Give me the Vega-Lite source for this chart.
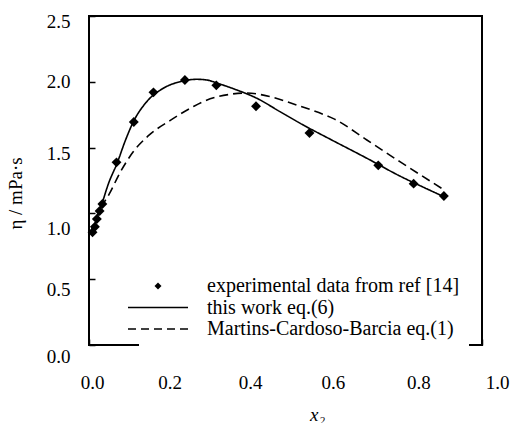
{
  "$schema": "https://vega.github.io/schema/vega-lite/v6.json",
  "width": 393,
  "height": 329,
  "autosize": "none",
  "padding": {"left": 89, "top": 16, "right": 29, "bottom": 78},
  "background": "white",
  "config": {
    "view": {"stroke": "black", "strokeWidth": 2},
    "font": "Liberation Serif",
    "axis": {
      "domain": false,
      "grid": false,
      "tickColor": "black",
      "tickWidth": 1.5,
      "tickSize": -6,
      "labelFlush": false,
      "labelFont": "Liberation Serif",
      "labelFontSize": 19,
      "labelColor": "black",
      "titleFont": "Liberation Serif",
      "titleFontSize": 19,
      "titleColor": "black",
      "titleFontWeight": "normal"
    }
  },
  "layer": [
    {
      "data": {
        "values": [
          {"x": 0.003, "y": 0.845, "series": "this work eq.(6)"},
          {"x": 0.009, "y": 0.865, "series": "this work eq.(6)"},
          {"x": 0.020, "y": 0.96, "series": "this work eq.(6)"},
          {"x": 0.032, "y": 1.065, "series": "this work eq.(6)"},
          {"x": 0.050, "y": 1.23, "series": "this work eq.(6)"},
          {"x": 0.072, "y": 1.385, "series": "this work eq.(6)"},
          {"x": 0.092, "y": 1.55, "series": "this work eq.(6)"},
          {"x": 0.113, "y": 1.697, "series": "this work eq.(6)"},
          {"x": 0.147, "y": 1.849, "series": "this work eq.(6)"},
          {"x": 0.189, "y": 1.951, "series": "this work eq.(6)"},
          {"x": 0.232, "y": 2.001, "series": "this work eq.(6)"},
          {"x": 0.274, "y": 2.019, "series": "this work eq.(6)"},
          {"x": 0.299, "y": 2.014, "series": "this work eq.(6)"},
          {"x": 0.333, "y": 1.983, "series": "this work eq.(6)"},
          {"x": 0.376, "y": 1.938, "series": "this work eq.(6)"},
          {"x": 0.427, "y": 1.875, "series": "this work eq.(6)"},
          {"x": 0.486, "y": 1.773, "series": "this work eq.(6)"},
          {"x": 0.545, "y": 1.672, "series": "this work eq.(6)"},
          {"x": 0.613, "y": 1.565, "series": "this work eq.(6)"},
          {"x": 0.707, "y": 1.419, "series": "this work eq.(6)"},
          {"x": 0.791, "y": 1.284, "series": "this work eq.(6)"},
          {"x": 0.850, "y": 1.20, "series": "this work eq.(6)"},
          {"x": 0.903, "y": 1.127, "series": "this work eq.(6)"},
          {"x": 0.003, "y": 0.85, "series": "Martins-Cardoso-Barcia eq.(1)"},
          {"x": 0.028, "y": 1.03, "series": "Martins-Cardoso-Barcia eq.(1)"},
          {"x": 0.052, "y": 1.15, "series": "Martins-Cardoso-Barcia eq.(1)"},
          {"x": 0.079, "y": 1.31, "series": "Martins-Cardoso-Barcia eq.(1)"},
          {"x": 0.113, "y": 1.47, "series": "Martins-Cardoso-Barcia eq.(1)"},
          {"x": 0.155, "y": 1.60, "series": "Martins-Cardoso-Barcia eq.(1)"},
          {"x": 0.206, "y": 1.705, "series": "Martins-Cardoso-Barcia eq.(1)"},
          {"x": 0.265, "y": 1.811, "series": "Martins-Cardoso-Barcia eq.(1)"},
          {"x": 0.291, "y": 1.85, "series": "Martins-Cardoso-Barcia eq.(1)"},
          {"x": 0.359, "y": 1.905, "series": "Martins-Cardoso-Barcia eq.(1)"},
          {"x": 0.401, "y": 1.915, "series": "Martins-Cardoso-Barcia eq.(1)"},
          {"x": 0.461, "y": 1.887, "series": "Martins-Cardoso-Barcia eq.(1)"},
          {"x": 0.528, "y": 1.824, "series": "Martins-Cardoso-Barcia eq.(1)"},
          {"x": 0.596, "y": 1.753, "series": "Martins-Cardoso-Barcia eq.(1)"},
          {"x": 0.622, "y": 1.72, "series": "Martins-Cardoso-Barcia eq.(1)"},
          {"x": 0.707, "y": 1.558, "series": "Martins-Cardoso-Barcia eq.(1)"},
          {"x": 0.791, "y": 1.393, "series": "Martins-Cardoso-Barcia eq.(1)"},
          {"x": 0.897, "y": 1.191, "series": "Martins-Cardoso-Barcia eq.(1)"}
        ]
      },
      "mark": {"type": "line", "color": "black", "strokeWidth": 1.6, "interpolate": "monotone"},
      "encoding": {
        "x": {
          "field": "x", "type": "quantitative",
          "scale": {"domain": [0, 1], "nice": false},
          "axis": {
            "values": [0, 0.2, 0.4, 0.6, 0.8, 1.0],
            "format": ".1f",
            "labelPadding": 34,
            "labelOffset": {"expr": "datum.value < 0.1 ? 3 : datum.value < 0.3 ? 2 : datum.value < 0.5 ? 4 : datum.value < 0.7 ? 8 : 15"},
            "title": "x₂",
            "titleFontStyle": "italic",
            "titleX": 228,
            "titleY": 75,
            "titleAlign": "center",
            "titleBaseline": "alphabetic"
          }
        },
        "y": {
          "field": "y", "type": "quantitative",
          "scale": {"domain": [0, 2.5], "nice": false},
          "axis": {
            "values": [0, 0.5, 1.0, 1.5, 2.0, 2.5],
            "format": ".1f",
            "labelPadding": 25,
            "labelOffset": {"expr": "datum.value == 2.5 ? 5 : datum.value == 2 ? 0 : datum.value == 1.5 ? 6 : datum.value == 1 ? 15 : datum.value == 0.5 ? 10 : 11"},
            "title": "η / mPa·s",
            "titleX": -74,
            "titleY": 177,
            "titleAngle": -90,
            "titleAlign": "center",
            "titleBaseline": "middle"
          }
        },
        "strokeDash": {
          "field": "series", "type": "nominal",
          "scale": {"domain": ["this work eq.(6)", "Martins-Cardoso-Barcia eq.(1)"], "range": [[1, 0], [9, 5]]},
          "legend": null
        }
      }
    },
    {
      "data": {
        "values": [
          {"x": 0.009, "y": 0.856, "series": "experimental data from ref [14]"},
          {"x": 0.015, "y": 0.899, "series": "experimental data from ref [14]"},
          {"x": 0.020, "y": 0.957, "series": "experimental data from ref [14]"},
          {"x": 0.027, "y": 1.018, "series": "experimental data from ref [14]"},
          {"x": 0.034, "y": 1.071, "series": "experimental data from ref [14]"},
          {"x": 0.070, "y": 1.388, "series": "experimental data from ref [14]"},
          {"x": 0.114, "y": 1.695, "series": "experimental data from ref [14]"},
          {"x": 0.164, "y": 1.920, "series": "experimental data from ref [14]"},
          {"x": 0.244, "y": 2.014, "series": "experimental data from ref [14]"},
          {"x": 0.324, "y": 1.973, "series": "experimental data from ref [14]"},
          {"x": 0.425, "y": 1.814, "series": "experimental data from ref [14]"},
          {"x": 0.561, "y": 1.611, "series": "experimental data from ref [14]"},
          {"x": 0.736, "y": 1.365, "series": "experimental data from ref [14]"},
          {"x": 0.826, "y": 1.226, "series": "experimental data from ref [14]"},
          {"x": 0.903, "y": 1.132, "series": "experimental data from ref [14]"}
        ]
      },
      "mark": {"type": "point", "filled": true, "color": "black", "size": 200, "opacity": 1},
      "encoding": {
        "x": {"field": "x", "type": "quantitative"},
        "y": {"field": "y", "type": "quantitative"},
        "shape": {
          "field": "series", "type": "nominal",
          "scale": {
            "domain": ["experimental data from ref [14]", "this work eq.(6)", "Martins-Cardoso-Barcia eq.(1)"],
            "range": [
              "M0,-0.7L0.7,0L0,0.7L-0.7,0Z",
              "M-6,-0.16L6,-0.16L6,0.16L-6,0.16Z",
              "M-6,-0.16L-4.4,-0.16L-4.4,0.16L-6,0.16ZM-3.4,-0.16L-1.8,-0.16L-1.8,0.16L-3.4,0.16ZM-0.8,-0.16L0.8,-0.16L0.8,0.16L-0.8,0.16ZM1.8,-0.16L3.4,-0.16L3.4,0.16L1.8,0.16ZM4.4,-0.16L6,-0.16L6,0.16L4.4,0.16Z"
            ]
          },
          "legend": {
            "orient": "none",
            "legendX": 50,
            "legendY": 251,
            "title": null,
            "fillColor": "white",
            "padding": 9,
            "symbolSize": 100,
            "symbolFillColor": "black",
            "symbolStrokeWidth": 0,
            "symbolOpacity": 1,
            "labelFont": "Liberation Serif",
            "labelFontSize": 20,
            "labelColor": "black",
            "labelOffset": 39,
            "labelLimit": 0,
            "labelBaseline": "middle",
            "rowPadding": 1.5
          }
        }
      }
    }
  ]
}
